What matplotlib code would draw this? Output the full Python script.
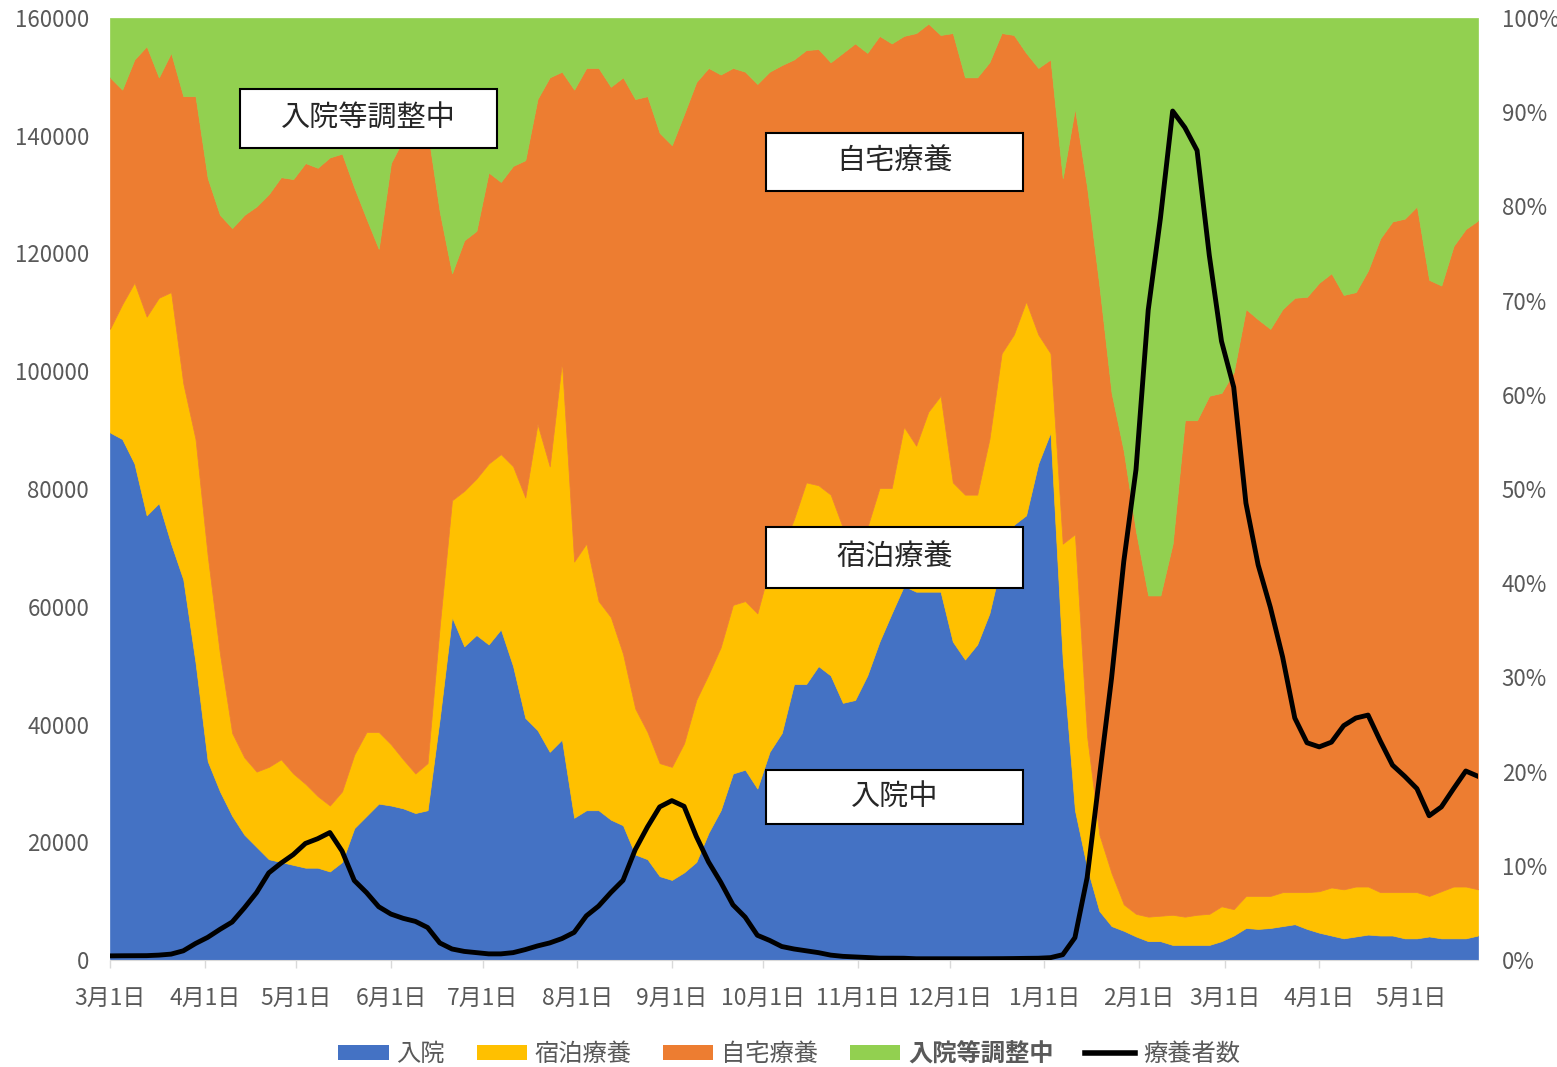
import numpy as np
import pandas as pd
import matplotlib
matplotlib.use('Agg')
import matplotlib.pyplot as plt
import matplotlib.dates as mdates
from matplotlib.patches import Patch, Rectangle
from matplotlib.lines import Line2D
from matplotlib.ticker import FuncFormatter

plt.rcParams['font.family'] = ['Noto Sans CJK JP', 'DejaVu Sans']

# 2021-03-01 から 4日おきに読み取った値 (構成比 %)
nyuin = [56.0, 55.3, 52.7, 47.2, 48.5, 44.2, 40.4, 31.6, 21.1, 17.9,
         15.3, 13.3, 12.0, 10.7, 10.4, 10.1, 9.8, 9.8, 9.4, 10.4,
         14.0, 15.3, 16.6, 16.4, 16.1, 15.6, 15.9, 25.7, 36.4, 33.3,
         34.5, 33.5, 35.1, 31.2, 25.7, 24.4, 22.1, 23.4, 15.1, 15.9,
         15.9, 14.9, 14.3, 11.2, 10.7, 8.9, 8.5, 9.3, 10.4, 13.5,
         15.9, 19.8, 20.2, 18.2, 22.1, 24.1, 29.3, 29.3, 31.2, 30.2,
         27.3, 27.6, 30.2, 33.8, 36.8, 39.7, 39.1, 39.1, 39.1, 33.8,
         31.9, 33.5, 36.8, 42.3, 46.2, 47.2, 52.7, 56.0, 31.9, 15.9,
         9.8, 5.2, 3.6, 3.1, 2.5, 2.0, 2.0, 1.6, 1.6, 1.6,
         1.6, 2.0, 2.6, 3.4, 3.3, 3.4, 3.6, 3.8, 3.3, 2.9,
         2.6, 2.3, 2.5, 2.7, 2.6, 2.6, 2.3, 2.3, 2.5, 2.3,
         2.3, 2.3, 2.6]
shukuhaku = [11.0, 14.3, 19.2, 21.1, 21.8, 26.7, 20.8, 23.7, 21.8, 14.6,
             8.8, 8.2, 8.0, 9.8, 10.9, 9.7, 8.9, 7.6, 7.0, 7.5,
             7.8, 8.9, 7.6, 6.5, 5.2, 4.2, 5.0, 9.8, 12.4, 16.5,
             16.6, 19.2, 18.6, 21.2, 23.4, 32.5, 30.3, 40.1, 27.2, 28.3,
             22.2, 21.5, 18.2, 15.5, 13.5, 12.0, 12.0, 13.7, 17.2, 16.8,
             17.3, 17.9, 17.9, 18.6, 19.5, 19.5, 17.5, 21.4, 19.2, 19.2,
             18.6, 18.0, 15.7, 16.3, 13.3, 16.9, 15.5, 19.1, 20.8, 16.9,
             17.5, 15.9, 18.5, 22.1, 20.2, 22.7, 13.7, 8.4, 12.3, 29.3,
             13.9, 8.1, 5.6, 2.8, 2.4, 2.6, 2.7, 3.2, 3.0, 3.2,
             3.3, 3.7, 2.8, 3.4, 3.5, 3.4, 3.6, 3.4, 3.9, 4.4,
             5.1, 5.2, 5.3, 5.1, 4.6, 4.6, 4.9, 4.9, 4.3, 5.0,
             5.5, 5.5, 4.9]
jitaku = [26.7, 22.8, 23.7, 28.7, 23.4, 25.4, 30.5, 36.4, 40.1, 46.6,
          53.6, 57.6, 60.0, 60.8, 61.8, 63.1, 65.9, 66.7, 68.8, 67.7,
          60.2, 54.5, 51.3, 61.7, 65.8, 68.3, 67.2, 43.9, 24.1, 26.6,
          26.3, 30.9, 28.9, 31.9, 35.8, 34.5, 41.3, 30.8, 50.1, 50.5,
          56.6, 56.3, 61.2, 64.7, 67.5, 66.9, 66.0, 66.8, 65.6, 64.4,
          60.8, 57.0, 56.2, 56.2, 52.7, 51.4, 48.8, 45.9, 46.3, 45.9,
          50.4, 51.7, 50.4, 48.0, 47.2, 41.5, 43.8, 41.2, 38.3, 47.7,
          44.3, 44.3, 40.0, 34.0, 31.8, 26.4, 28.3, 31.2, 38.8, 45.2,
          58.3, 58.3, 51.0, 48.1, 40.6, 34.1, 34.0, 39.4, 52.7, 52.5,
          55.0, 54.5, 57.0, 62.3, 61.2, 60.2, 61.9, 63.1, 63.2, 64.6,
          65.2, 63.1, 63.1, 65.4, 69.4, 71.2, 71.5, 72.8, 65.4, 64.3,
          68.0, 69.8, 71.0]
chosei = [6.3, 7.6, 4.4, 3.0, 6.3, 3.7, 8.3, 8.3, 17.0, 20.9,
          22.3, 20.9, 20.0, 18.7, 16.9, 17.1, 15.4, 15.9, 14.8, 14.4,
          18.0, 21.3, 24.5, 15.4, 12.9, 11.9, 11.9, 20.6, 27.1, 23.6,
          22.6, 16.4, 17.4, 15.7, 15.1, 8.6, 6.3, 5.7, 7.6, 5.3,
          5.3, 7.3, 6.3, 8.6, 8.3, 12.2, 13.5, 10.2, 6.8, 5.3,
          6.0, 5.3, 5.7, 7.0, 5.7, 5.0, 4.4, 3.4, 3.3, 4.7,
          3.7, 2.7, 3.7, 1.9, 2.7, 1.9, 1.6, 0.6, 1.8, 1.6,
          6.3, 6.3, 4.7, 1.6, 1.8, 3.7, 5.3, 4.4, 17.0, 9.6,
          18.0, 28.4, 39.8, 46.0, 54.5, 61.3, 61.3, 55.8, 42.7, 42.7,
          40.1, 39.8, 37.6, 30.9, 32.0, 33.0, 30.9, 29.7, 29.6, 28.1,
          27.1, 29.4, 29.1, 26.8, 23.4, 21.6, 21.3, 20.0, 27.8, 28.4,
          24.2, 22.4, 21.5]
# 療養者数 (人)
ryoyosha = [700, 720, 730, 740, 830, 1000, 1560, 2800, 3850, 5200,
            6450, 8850, 11450, 14800, 16450, 17900, 19800, 20600, 21650, 18500,
            13500, 11450, 9050, 7800, 7080, 6560, 5520, 2900, 1870, 1460,
            1250, 1040, 1040, 1250, 1770, 2390, 2900, 3640, 4690, 7500,
            9160, 11450, 13530, 18740, 22590, 26000, 27070, 26100, 21000, 16660,
            13220, 9370, 7290, 4200, 3330, 2290, 1870, 1560, 1250, 830,
            620, 520, 420, 310, 310, 300, 210, 210, 210, 210,
            210, 210, 220, 230, 250, 280, 300, 400, 900, 3800,
            14000, 31000, 47900, 67700, 83300, 110400, 126000, 144200, 141400, 137500,
            119700, 105100, 97300, 77600, 67100, 59900, 51500, 41100, 36900, 36200,
            37000, 39800, 41100, 41600, 37200, 33100, 31200, 29100, 24500, 26000,
            29100, 32100, 31200]

labels = ['入院', '宿泊療養', '自宅療養', '入院等調整中']
colors = ['#4472C4', '#FFC000', '#ED7D31', '#92D050']
gray = '#595959'

dates = pd.Timestamp('2021-03-01') + pd.to_timedelta(np.arange(len(nyuin)) * 4, unit='D')

shares = np.array([nyuin, shukuhaku, jitaku, chosei], dtype=float)
shares = shares / shares.sum(axis=0) * 100

fig = plt.figure(figsize=(15.57, 10.67), dpi=100)
ax = fig.add_axes([110 / 1557, 1 - 960 / 1067, 1368 / 1557, 942 / 1067])
ax.stackplot(dates, shares, colors=colors, edgecolor='face', linewidth=0.5)
ax.set_ylim(0, 100)
ax.set_xlim(dates[0], dates[-1])

ax2 = ax.twinx()
ax2.plot(dates, ryoyosha, color='black', lw=3.5, solid_joinstyle='round', zorder=3)
ax2.set_ylim(0, 160000)
ax2.set_yticks(range(0, 160001, 20000))
ax2.yaxis.tick_left()
ax2.tick_params(axis='y', length=0, labelsize=16, labelcolor=gray, pad=15)

ax.yaxis.tick_right()
ax.set_yticks(range(0, 101, 10))
ax.yaxis.set_major_formatter(FuncFormatter(lambda v, p: f'{int(v)}%'))
ax.tick_params(axis='y', length=0, labelsize=16, labelcolor=gray, pad=17)

ax.xaxis.set_major_locator(mdates.MonthLocator(bymonthday=1))
ax.xaxis.set_major_formatter(FuncFormatter(lambda v, p: f'{mdates.num2date(v).month}月1日'))
ax.tick_params(axis='x', length=6, width=1, color='#D9D9D9', labelsize=16.5,
               labelcolor=gray, pad=13)

for a in (ax, ax2):
    for s in ('top', 'left', 'right'):
        a.spines[s].set_visible(False)
ax2.spines['bottom'].set_visible(False)
ax.spines['bottom'].set_color('#D9D9D9')

# 系列名の枠
boxes = [(0.0950, 0.8620, 0.2829, 0.9246, '入院等調整中'),
         (0.4795, 0.8163, 0.6674, 0.8779, '自宅療養'),
         (0.4795, 0.3949, 0.6674, 0.4597, '宿泊療養'),
         (0.4795, 0.1444, 0.6674, 0.2017, '入院中')]
for x0, y0, x1, y1, t in boxes:
    ax2.add_patch(Rectangle((x0, y0), x1 - x0, y1 - y0, transform=ax2.transAxes,
                            facecolor='white', edgecolor='black', lw=1.5, zorder=5))
    ax2.text((x0 + x1) / 2, (y0 + y1) / 2, t, transform=ax2.transAxes, ha='center',
             va='center', fontsize=21, color='#262626', zorder=6)

handles = [Patch(facecolor=c) for c in colors] + [Line2D([0], [0], color='black', lw=4)]
leg = fig.legend(handles, labels + ['療養者数'], loc='center', bbox_to_anchor=(0.507, 0.012),
                 ncol=5, frameon=False, fontsize=17.5, handlelength=2.06, handleheight=0.6,
                 handletextpad=0.33, columnspacing=1.3, labelcolor=gray)
leg.get_texts()[3].set_fontweight('bold')

fig.savefig('out.png', dpi=100)
